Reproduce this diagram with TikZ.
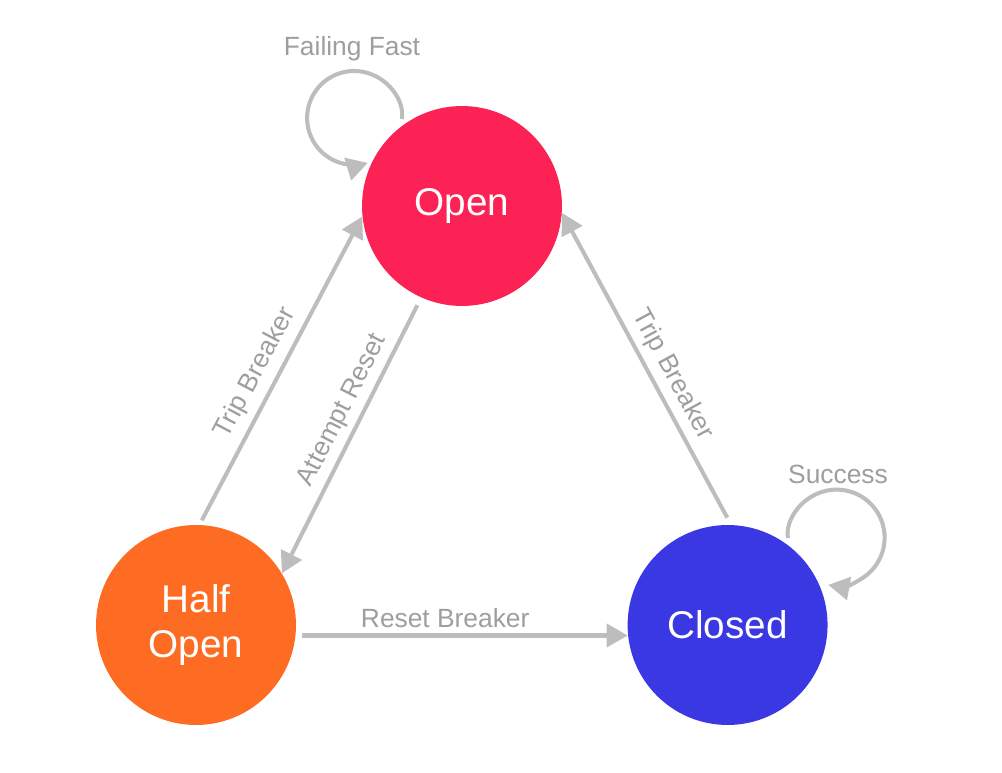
\documentclass[tikz,border=0pt]{standalone}
\usepackage{fontspec}
\setmainfont{Liberation Sans}
\usetikzlibrary{arrows.meta, positioning}
\definecolor{openred}{RGB}{252,34,85}
\definecolor{halforange}{RGB}{253,108,34}
\definecolor{closedblue}{RGB}{58,56,226}
\definecolor{linegray}{RGB}{189,189,189}
\definecolor{labelgray}{RGB}{158,158,158}
\tikzset{%
  state/.style={circle, minimum size=4cm, inner sep=0mm, text=white, align=center,
    font=\fontsize{22}{25.3}\selectfont},
  move/.style={draw=linegray, line width=2.3pt, -{Triangle[length=12pt,width=13pt]}},
  lbl/.style={text=labelgray, font=\fontsize{15}{18}\selectfont}
}
\begin{document}
\begin{tikzpicture}[x=0.02cm, y=0.02cm]
  \useasboundingbox (0,0) rectangle (1002,772);

  \node[state, fill=openred] (open) at (462,566) {Open};
  \node[state, fill=halforange] (half) at (196,147) {Half\\Open};
  \node[state, fill=closedblue, right=6.62cm of half] (closed) {Closed};

  \draw[move, shorten <=0.1cm] (half.88) to node[lbl, sloped, above, pos=0.46, inner sep=4pt] {Trip Breaker} (open.186);
  \draw[move, shorten <=0.17cm] (open.246) to node[lbl, sloped, above, pos=0.44, inner sep=3pt] {Attempt Reset} (half.31);
  \draw[move, shorten <=0.13cm] (half.-6) to node[lbl, above, pos=0.45, inner sep=3pt] {Reset Breaker} (closed.186);
  \draw[move, shorten <=0.16cm] (closed.88) to node[lbl, sloped, above, pos=0.45] {Trip Breaker} (open.-4);

  \draw[move, shorten <=0.16cm] (open.128) arc[start angle=-11, end angle=287, radius=0.94cm];
  \draw[move, shorten <=0.16cm] (closed.52) arc[start angle=190, end angle=-100, radius=0.96cm];

  \node[lbl] (failing) at (352,723) {Failing Fast};
  \node[lbl] (success) at (838,298) {Success};
\end{tikzpicture}
\end{document}
